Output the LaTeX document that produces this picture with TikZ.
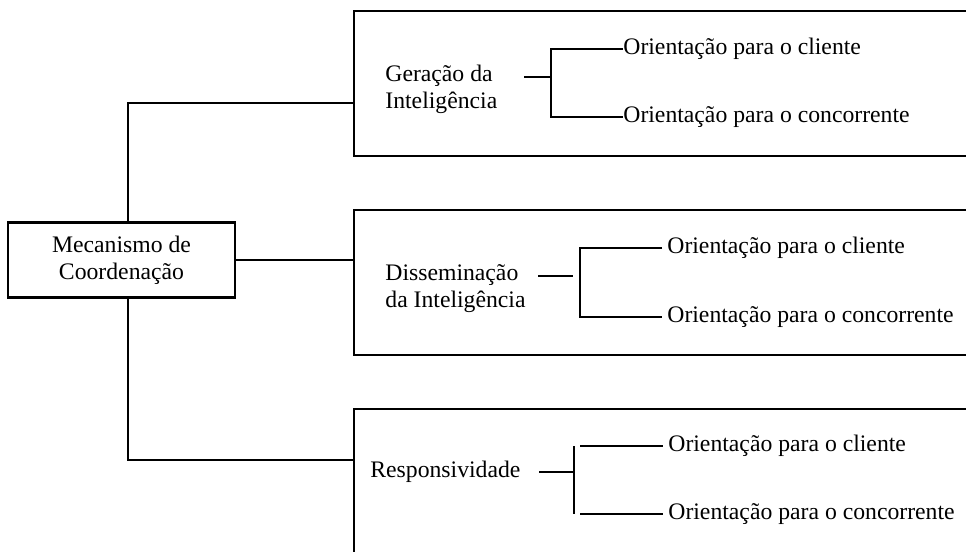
\documentclass[tikz,border=0pt]{standalone}
\usepackage{fontspec}
\setmainfont{Liberation Serif}
\usepackage{tikz}
\usetikzlibrary{calc}
\newcommand\txtfonte{\fontsize{11.85pt}{13.5pt}\selectfont}
\tikzset{
	caixa/.style={draw, line width=1.2pt, minimum width=113.5pt, minimum height=37.5pt, align=center, inner sep=0pt, font=\txtfonte},
	bloco/.style={draw, line width=1.2pt, anchor=north west, minimum width=330pt, inner sep=0pt},
	rotulo/.style={anchor=west, align=left, inner sep=0pt, font=\txtfonte},
	afastado/.style={rotulo, inner xsep=2.5pt},
	ramo/.style={line width=1pt}
}

\begin{document}
\begin{tikzpicture}[x=0.5pt, y=-0.5pt]
		%%%%% START %%%%%
		\useasboundingbox (0, 0) rectangle (966, 552);
		\clip (0, 0) rectangle (966, 552);
		
		\node[caixa] (mec) at (121.5, 260) {Mecanismo de\\Coordena\c{c}\~ao};
		
		\node[bloco, minimum height=72.5pt] (b1) at (353, 10) {};
		\node[bloco, minimum height=72.5pt] (b2) at (353, 209) {};
		\node[bloco, minimum height=80pt] (b3) at (353, 408) {};
		
		\coordinate (tronco) at (128, 0);
		\coordinate (h1) at (0, 103);
		\coordinate (h3) at (0, 460);
		\draw[ramo] (mec.north -| tronco) |- (b1.west |- h1);
		\draw[ramo] (mec.east) -- (b2.west |- mec.east);
		\draw[ramo] (mec.south -| tronco) |- (b3.west |- h3);
		
		%%%%% geracao %%%%%
		\node[rotulo] (g1) at (385, 89) {Gera\c{c}\~ao da\\Intelig\^encia};
		\node[rotulo] (c1) at (623, 49) {Orienta\c{c}\~ao para o cliente};
		\node[rotulo] (k1) at (623, 117) {Orienta\c{c}\~ao para o concorrente};
		\coordinate (t1) at (551, 49);
		\coordinate (u1) at (551, 117);
		\coordinate (s1) at (524, 77);
		\draw[ramo] (c1.west) -- (t1) -- (u1) -- (k1.west);
		\draw[ramo] (s1) -- (s1 -| t1);
		
		%%%%% disseminacao %%%%%
		\node[rotulo] (g2) at (385, 289) {Dissemina\c{c}\~ao\\da Intelig\^encia};
		\node[afastado] (c2) at (662, 248) {Orienta\c{c}\~ao para o cliente};
		\node[afastado] (k2) at (662, 317) {Orienta\c{c}\~ao para o concorrente};
		\coordinate (t2) at (580, 248);
		\coordinate (u2) at (580, 317);
		\coordinate (s2) at (538, 276);
		\draw[ramo] (c2.west) -- (t2) -- (u2) -- (k2.west);
		\draw[ramo] (s2) -- ++(35, 0);
		
		%%%%% responsividade %%%%%
		\node[rotulo] (g3) at (370, 472) {Responsividade};
		\node[afastado] (c3) at (663, 446) {Orienta\c{c}\~ao para o cliente};
		\node[afastado] (k3) at (663, 514) {Orienta\c{c}\~ao para o concorrente};
		\coordinate (t3) at (574, 446);
		\coordinate (u3) at (574, 514);
		\coordinate (s3) at (539, 472);
		\draw[ramo] (t3) -- (u3);
		\draw[ramo] (s3) -- (s3 -| t3);
		\draw[ramo] ($(t3)+(6, 0)$) -- (c3.west);
		\draw[ramo] ($(u3)+(6, 0)$) -- (k3.west);
		
		%%%%% END %%%%%
\end{tikzpicture}
\end{document}
